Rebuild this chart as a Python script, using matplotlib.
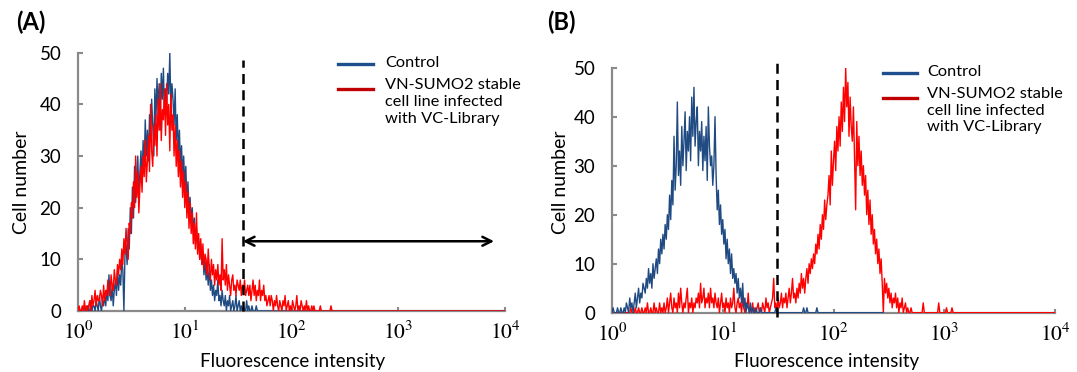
"""
Flow cytometry histograms, control vs VN-SUMO2 cells (two panels)
"""
import numpy as np
import matplotlib.pyplot as plt
from matplotlib.lines import Line2D

plt.rcParams['font.family'] = ['Lato', 'DejaVu Sans']
plt.rcParams['mathtext.fontset'] = 'stix'

# histogram channels: 100 per decade on the log10 axis, from 10^0 to 10^4
step = 0.01
n_chan = 401

# ---- panel A: counts, first channel given by *_start (log10)
a_ctrl_start = 0.05
a_ctrl = [0, 1, 0, 0, 1, 0, 0, 2, 0, 1,
          1, 0, 2, 1, 0, 3, 1, 0, 2, 1,
          3, 1, 4, 2, 7, 3, 2, 5, 1, 4,
          6, 3, 8, 4, 7, 5, 10, 8, 0, 11,
          13, 9, 16, 12, 20, 15, 24, 18, 28, 21,
          26, 30, 22, 27, 31, 25, 33, 28, 37, 30,
          35, 29, 38, 33, 41, 36, 30, 43, 37, 45,
          39, 44, 35, 46, 41, 47, 38, 43, 40, 46,
          42, 50, 39, 44, 41, 36, 43, 33, 38, 30,
          35, 28, 32, 26, 30, 24, 28, 21, 25, 19,
          22, 17, 20, 15, 18, 13, 16, 12, 14, 10,
          13, 9, 11, 7, 10, 6, 8, 5, 9, 4,
          6, 3, 5, 2, 4, 3, 6, 2, 3, 1,
          4, 2, 1, 3, 0, 2, 1, 3, 0, 1,
          2, 0, 1, 3, 0, 1, 2, 0, 1, 0,
          1, 0, 0, 2, 0, 1, 0, 0, 1, 0,
          0, 0, 1, 0, 0, 0]

a_vn_start = 0.00
a_vn = [0, 1, 0, 0, 1, 0, 2, 0, 1, 0,
        1, 2, 0, 3, 1, 2, 4, 1, 3, 2,
        2, 4, 3, 1, 5, 2, 4, 3, 6, 4,
        3, 7, 5, 4, 8, 6, 5, 9, 7, 10,
        8, 12, 9, 14, 11, 16, 13, 10, 17, 15,
        21, 18, 25, 20, 30, 22, 27, 19, 24, 28,
        23, 30, 26, 33, 25, 29, 34, 27, 40, 31,
        28, 36, 32, 38, 30, 41, 35, 44, 33, 39,
        37, 43, 34, 44, 36, 40, 31, 42, 35, 38,
        30, 36, 28, 33, 26, 31, 24, 29, 22, 27,
        20, 25, 18, 23, 16, 21, 15, 19, 13, 17,
        12, 19, 11, 15, 10, 14, 9, 13, 8, 11,
        10, 7, 12, 8, 6, 10, 7, 9, 5, 8,
        6, 9, 5, 7, 4, 14, 6, 8, 5, 9,
        4, 7, 5, 3, 6, 7, 4, 5, 3, 6,
        5, 4, 6, 3, 5, 4, 6, 3, 4, 5,
        3, 5, 2, 4, 6, 3, 5, 2, 4, 3,
        6, 2, 4, 3, 5, 2, 3, 1, 2, 3,
        1, 3, 2, 0, 2, 1, 3, 1, 0, 2,
        1, 0, 2, 1, 3, 0, 1, 2, 0, 1,
        0, 2, 1, 0, 1, 3, 0, 1, 0, 2,
        1, 0, 1, 0, 2, 0, 1, 0, 0, 1,
        0, 1, 0, 0, 0, 0, 0, 1, 0, 0,
        0, 0, 0, 0, 0, 0, 0, 1, 0, 0]

# ---- panel B
b_ctrl_start = 0.00
b_ctrl = [0, 1, 0, 0, 0, 1, 0, 0, 1, 0,
          0, 1, 0, 2, 1, 0, 3, 1, 2, 0,
          2, 4, 1, 3, 5, 2, 4, 3, 6, 5,
          4, 7, 5, 9, 6, 8, 5, 10, 7, 9,
          11, 8, 13, 10, 15, 12, 16, 13, 18, 15,
          20, 17, 24, 19, 27, 22, 36, 25, 30, 43,
          28, 33, 26, 38, 30, 35, 41, 29, 37, 33,
          40, 31, 44, 36, 46, 34, 39, 42, 30, 37,
          33, 39, 29, 36, 31, 38, 27, 42, 34, 30,
          32, 26, 30, 40, 28, 21, 25, 18, 22, 16,
          19, 14, 17, 11, 15, 10, 13, 8, 12, 7,
          9, 6, 8, 4, 7, 3, 5, 2, 6, 1,
          3, 0, 2, 1, 0, 2, 0, 1, 0, 0,
          1, 0, 0, 0, 1, 0, 0, 0, 0, 0,
          0, 0, 0, 0, 0, 0, 0, 0, 1, 0,
          0, 0, 0, 0, 0, 0, 0, 0, 0, 0,
          0, 0, 0, 0, 0, 0, 0, 0, 0, 0,
          0, 0, 0, 1, 0, 0, 1, 0, 0, 0,
          0, 0, 0, 0, 0, 1, 0, 0, 0, 0]
b_ctrl_end = 2.45  # control trace stops here (zeros after the peak)

b_vn_start = 0.15
b_vn = [0, 0, 1, 0, 0, 0, 1, 0, 0, 1,
        0, 0, 1, 0, 0, 1, 0, 2, 0, 0,
        1, 0, 0, 2, 0, 1, 0, 0, 2, 0,
        1, 0, 2, 0, 1, 3, 0, 2, 4, 1,
        0, 3, 1, 2, 0, 4, 1, 5, 2, 0,
        2, 1, 3, 5, 0, 2, 1, 3, 0, 2,
        1, 3, 2, 4, 1, 6, 2, 3, 5, 1,
        3, 2, 4, 1, 5, 2, 3, 1, 4, 2,
        1, 3, 0, 2, 4, 1, 2, 0, 3, 1,
        2, 0, 3, 1, 2, 5, 1, 0, 2, 3,
        1, 2, 0, 3, 1, 0, 2, 1, 4, 0,
        1, 0, 2, 0, 1, 0, 1, 2, 0, 1,
        0, 2, 1, 0, 3, 1, 2, 0, 1, 2,
        3, 7, 1, 2, 0, 3, 1, 2, 4, 1,
        3, 2, 4, 1, 3, 5, 2, 4, 7, 3,
        4, 2, 5, 3, 6, 4, 8, 5, 7, 4,
        7, 9, 6, 10, 8, 11, 9, 12, 10, 14,
        12, 16, 13, 18, 15, 20, 17, 23, 19, 22,
        24, 28, 22, 33, 26, 31, 35, 29, 38, 33,
        40, 34, 43, 37, 46, 39, 50, 42, 47, 36,
        44, 38, 35, 42, 32, 21, 39, 30, 36, 28,
        33, 26, 30, 24, 28, 20, 25, 18, 23, 16,
        20, 14, 17, 12, 15, 10, 13, 8, 11, 6,
        0, 7, 4, 6, 3, 5, 2, 4, 1, 3,
        2, 4, 1, 3, 0, 2, 1, 3, 0, 1,
        2, 0, 1, 0, 0, 1, 0, 0, 0, 0,
        0, 0, 0, 0, 0, 0, 2, 0, 0, 0,
        0, 0, 0, 0, 0, 0, 0, 0, 0, 0,
        2, 0, 0, 0, 0, 0, 0, 1, 0, 0,
        0, 0, 1, 0, 0, 0]

gate_a = 35      # dashed gate position, panel A
gate_b = 31      # dashed gate position, panel B
arrow_end = 7900
arrow_y = 13.5

xtick_vals = [1, 10, 100, 1000, 10000]
xtick_labels = ['$10^{0}$', '$10^{1}$', '$10^{2}$', '$10^{3}$', '$10^{4}$']
ytick_vals = [0, 10, 20, 30, 40, 50]

legend_labels = ['Control', 'VN-SUMO2 stable\ncell line infected\nwith VC-Library']

blue = '#1f4a82'
red = '#ff0000'
grey = '#8a8a8a'


def channels(start, counts, stop=4.0):
    # put the read counts on the full channel grid, zero elsewhere
    logx = np.arange(n_chan) * step
    y = np.zeros(n_chan)
    i0 = int(round(start / step))
    y[i0:i0 + len(counts)] = counts
    keep = logx <= stop + 1e-9
    return 10 ** logx[keep], y[keep]


def style_axes(ax):
    ax.set_xscale('log')
    ax.set_xlim(1, 1e4)
    ax.set_ylim(0, 50)
    ax.spines['top'].set_visible(False)
    ax.spines['right'].set_visible(False)
    for s in ['left', 'bottom']:
        ax.spines[s].set_color(grey)
        ax.spines[s].set_linewidth(1.6)
    ax.spines['bottom'].set_zorder(0)
    ax.set_yticks(ytick_vals)
    ax.set_xticks(xtick_vals)
    ax.set_xticklabels(xtick_labels)
    ax.minorticks_off()
    ax.tick_params(axis='y', direction='in', length=3.5, width=1.5, color=grey,
                   labelsize=13.5, pad=12)
    ax.tick_params(axis='x', direction='in', length=3, width=1.5, color=grey,
                   labelsize=15.5, pad=7)


plt.close('all')
fig = plt.figure(figsize=(10.77, 3.72), dpi=100)
W, H = 1077.0, 372.0

# ---------------- panel A
axA = fig.add_axes([78 / W, 1 - 311 / H, 427 / W, 258.3 / H])
style_axes(axA)
x, y = channels(a_ctrl_start, a_ctrl)
axA.plot(x, y, color=blue, lw=1.0, zorder=2)
x, y = channels(a_vn_start, a_vn)
axA.plot(x, y, color=red, lw=1.0, zorder=3)
axA.plot([gate_a, gate_a], [0, 48.5], color='black', lw=1.8, dashes=(4, 2.5), zorder=4,
         clip_on=False)
axA.annotate('', xy=(arrow_end, arrow_y), xytext=(gate_a, arrow_y),
             arrowprops=dict(arrowstyle='<->', color='black', lw=1.8, mutation_scale=16,
                             shrinkA=0, shrinkB=0))

# ---------------- panel B
axB = fig.add_axes([612 / W, 1 - 312.7 / H, 443 / W, 245 / H])
style_axes(axB)
x, y = channels(b_vn_start, b_vn)
axB.plot(x, y, color=red, lw=1.0, zorder=2)
x, y = channels(b_ctrl_start, b_ctrl, stop=b_ctrl_end)
axB.plot(x, y, color=blue, lw=1.0, zorder=3)
axB.plot([gate_b, gate_b], [-0.8, 51.2], color='black', lw=1.8, dashes=(4, 2.5), zorder=4,
         clip_on=False)

# ---------------- text and hand-made legends
for px, lab in [(31, '(A)'), (561, '(B)')]:
    fig.text(px / W, 1 - 22 / H, lab, fontsize=17, fontweight='bold', ha='center', va='center')
for px in [22, 560]:
    fig.text(px / W, 1 - 182 / H, 'Cell number', fontsize=14, rotation=90,
             ha='center', va='center')
for px in [293, 827]:
    fig.text(px / W, 1 - 362 / H, 'Fluorescence intensity', fontsize=13.5,
             ha='center', va='center')

for lx0, lx1, ty, tx in [(338, 373, 63, 385), (883, 917, 72, 927)]:
    fig.add_artist(Line2D([lx0 / W, lx1 / W], [1 - (ty + 1) / H] * 2, color='#1f4e8c', lw=2.4))
    fig.add_artist(Line2D([lx0 / W, lx1 / W], [1 - (ty + 26) / H] * 2, color='#c00000', lw=2.4))
    fig.text(tx / W, 1 - ty / H, legend_labels[0], fontsize=11.8, va='center', ha='left')
    fig.text(tx / W, 1 - (ty + 15) / H, legend_labels[1], fontsize=11.8, va='top', ha='left',
             linespacing=1.25)

fig.savefig('out.png', dpi=100)
